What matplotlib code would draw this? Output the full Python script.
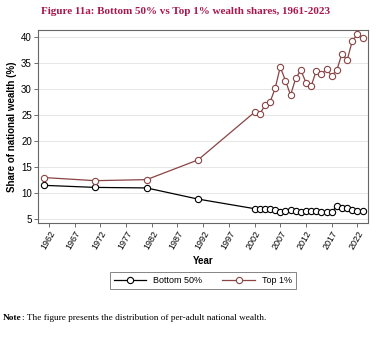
import matplotlib
matplotlib.use('Agg')
from matplotlib import pyplot as plt

# wealth shares
years = [1961, 1971, 1981, 1991] + list(range(2002, 2024))
bottom50 = [11.5, 11.1, 11.0, 8.85,
            7.0, 7.0, 7.0, 6.9, 6.7, 6.3, 6.5, 6.8, 6.5, 6.3, 6.5,
            6.5, 6.5, 6.3, 6.3, 6.3, 7.5, 7.2, 7.1, 6.8, 6.6, 6.6]
top1 = [13.0, 12.4, 12.6, 16.4,
        25.6, 25.2, 26.9, 27.5, 30.2, 34.3, 31.7, 28.9, 32.1, 33.7, 31.3,
        30.6, 33.6, 32.9, 33.9, 32.6, 33.7, 36.9, 35.6, 39.3, 40.6, 39.9]
xticks = list(range(1962, 2023, 5))
yticks = [5, 10, 15, 20, 25, 30, 35, 40]

plt.rcParams['font.family'] = ['Liberation Sans', 'DejaVu Sans']

fig = plt.figure(figsize=(3.78, 3.45), dpi=100)
ax = fig.add_axes([0.101, 0.353, 0.873, 0.561])

ax.plot(years, bottom50, color='black', lw=0.9, marker='o', ms=4.5,
        mfc='white', mec='black', mew=0.8, label='Bottom 50%', zorder=3)
ax.plot(years, top1, color='#8a4444', lw=0.9, marker='o', ms=4.5,
        mfc='white', mec='#8a4444', mew=0.8, label='Top 1%', zorder=3)

ax.set_xlim(1959.9, 2024.1)
ax.set_ylim(4.2, 41.5)
ax.set_xticks(xticks)
ax.set_xticklabels([str(x) for x in xticks], rotation=60, ha='right',
                   rotation_mode='anchor', fontsize=6.5)
ax.set_yticks(yticks)
ax.set_yticklabels([str(y) for y in yticks], fontsize=7)
ax.yaxis.grid(True, color='#e6e6e6', lw=0.7)
ax.set_axisbelow(True)
ax.tick_params(length=3, width=0.6, color='#555555', pad=1.5)
for s in ax.spines.values():
    s.set_color('#666666')
    s.set_linewidth(0.8)

ax.set_xlabel('Year', fontsize=7, fontweight='bold', labelpad=3)
ax.set_ylabel('Share of national wealth (%)', fontsize=7, fontweight='bold', labelpad=3)

leg = ax.legend(loc='center', bbox_to_anchor=(203 / 378, 1 - 280.5 / 345),
                bbox_transform=fig.transFigure, ncol=2, fontsize=6.5,
                frameon=True, fancybox=False, handlelength=3.6,
                columnspacing=2.2, borderpad=0.45, handletextpad=0.8)
leg.get_frame().set_edgecolor('#666666')
leg.get_frame().set_linewidth(0.7)

fig.text(186 / 378, 1 - 11 / 345, 'Figure 11a: Bottom 50% vs Top 1% wealth shares, 1961-2023',
         ha='center', va='center', fontsize=8.0, fontweight='bold',
         color='#a8174e', family='Liberation Serif')

# note: bold "Note" followed by regular text
note_y = 1 - 318 / 345
t = fig.text(3 / 378, note_y, 'Note', ha='left', va='center', fontsize=6.7,
             fontweight='bold', family='Liberation Serif')
fig.canvas.draw()
bb = t.get_window_extent(renderer=fig.canvas.get_renderer())
x_next = bb.x1 / fig.bbox.width
fig.text(x_next, note_y, ': The figure presents the distribution of per-adult national wealth.',
         ha='left', va='center', fontsize=6.7, family='Liberation Serif')

fig.savefig('out.png', dpi=100)
